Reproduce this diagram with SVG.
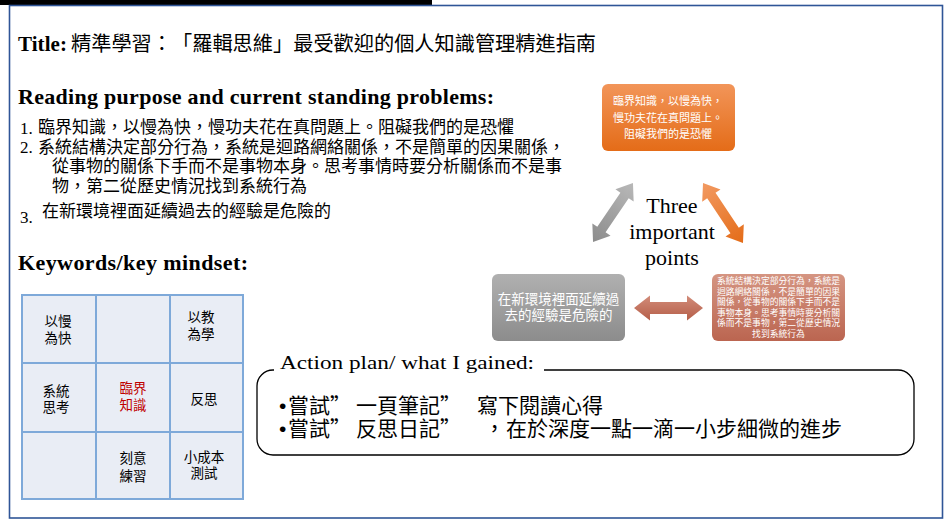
<svg xmlns="http://www.w3.org/2000/svg" width="950" height="523" viewBox="0 0 950 523">
<defs>
<style>
.cjk{font-family:"Noto Sans CJK TC","Noto Sans CJK SC",sans-serif;text-spacing-trim:space-all;}
.serif{font-family:"Liberation Serif","Times New Roman",serif;}
.sans{font-family:"Liberation Sans",Arial,sans-serif;}
.hd{font-family:"Liberation Serif","Times New Roman",serif;font-weight:bold;font-size:22px;fill:#000;}
.li{font-size:17px;fill:#000;}
.num{font-family:"Liberation Serif",serif;font-size:17px;fill:#000;}
.cell{fill:#E9EDF5;stroke:#7EA9D9;stroke-width:2;}
.ct{font-size:13.5px;fill:#000;text-anchor:middle;}
.red{fill:#C00000;}
.wt{fill:#FFFFFF;text-anchor:middle;}
.ap{font-size:21px;fill:#000;}
</style>
<linearGradient id="gOr" x1="0" y1="0" x2="0" y2="1"><stop offset="0" stop-color="#F29559"/><stop offset="1" stop-color="#E46C18"/></linearGradient>
<linearGradient id="gGr" x1="0" y1="0" x2="0" y2="1"><stop offset="0" stop-color="#B0B0B0"/><stop offset="1" stop-color="#8C8C8C"/></linearGradient>
<linearGradient id="gBr" x1="0" y1="0" x2="0" y2="1"><stop offset="0" stop-color="#D59582"/><stop offset="1" stop-color="#BB6550"/></linearGradient>
<linearGradient id="gArGr" x1="0" y1="0" x2="1" y2="0"><stop offset="0" stop-color="#8C8C8C"/><stop offset="1" stop-color="#B8B8B8"/></linearGradient>
<linearGradient id="gArOr" x1="0" y1="0" x2="1" y2="0"><stop offset="0" stop-color="#F29A62"/><stop offset="1" stop-color="#E46C18"/></linearGradient>
<linearGradient id="gArBr" x1="0" y1="0" x2="0" y2="1"><stop offset="0" stop-color="#D28C7A"/><stop offset="1" stop-color="#B55E48"/></linearGradient>
</defs>
<rect x="0" y="0" width="950" height="523" fill="#FFFFFF"/>
<rect x="0" y="0" width="432" height="5" fill="#000000"/>
<rect x="9.5" y="5.5" width="933" height="512.5" fill="none" stroke="#2F5597" stroke-width="1.6"/>

<g id="title">
<text x="18" y="51" class="serif" font-weight="bold" font-size="21" textLength="49">Title:</text>
<text y="51" class="cjk" font-size="20.2"><tspan x="71">精準學習：</tspan><tspan x="172">「羅輯思維」</tspan><tspan x="293.2">最受歡迎的個人知識管理精進指南</tspan></text>
</g>

<g id="reading">
<text x="18" y="104" class="hd" textLength="476">Reading purpose and current standing problems:</text>
<text x="20" y="134" class="num">1.</text>
<text x="38" y="133" class="cjk li">臨界知識，以慢為快，慢功夫花在真問題上。阻礙我們的是恐懼</text>
<text x="20" y="153" class="num">2.</text>
<text x="38" y="152.5" class="cjk li">系統結構決定部分行為，系統是迴路網絡關係，不是簡單的因果關係，</text>
<text x="52" y="172" class="cjk li">從事物的關係下手而不是事物本身。思考事情時要分析關係而不是事</text>
<text x="52" y="191.5" class="cjk li">物，第二從歷史情況找到系統行為</text>
<text x="20" y="223" class="num">3.</text>
<text x="42" y="217" class="cjk li">在新環境裡面延續過去的經驗是危險的</text>
</g>

<g id="keywords">
<text x="18" y="270" class="hd" textLength="230">Keywords/key mindset:</text>
<rect class="cell" x="22" y="295" width="74" height="68"/>
<rect class="cell" x="96" y="295" width="74" height="68"/>
<rect class="cell" x="170" y="295" width="73" height="68"/>
<rect class="cell" x="22" y="363" width="74" height="69"/>
<rect class="cell" x="96" y="363" width="74" height="69"/>
<rect class="cell" x="170" y="363" width="73" height="69"/>
<rect class="cell" x="22" y="432" width="74" height="67"/>
<rect class="cell" x="96" y="432" width="74" height="67"/>
<rect class="cell" x="170" y="432" width="73" height="67"/>
<text class="cjk ct" x="58" y="326">以慢</text>
<text class="cjk ct" x="58" y="343">為快</text>
<text class="cjk ct" x="201" y="322">以教</text>
<text class="cjk ct" x="201" y="339">為學</text>
<text class="cjk ct" x="56" y="396">系統</text>
<text class="cjk ct" x="56" y="412">思考</text>
<text class="cjk ct red" x="133" y="393">臨界</text>
<text class="cjk ct red" x="133" y="410">知識</text>
<text class="cjk ct" x="204" y="404">反思</text>
<text class="cjk ct" x="133" y="463">刻意</text>
<text class="cjk ct" x="133" y="481">練習</text>
<text class="cjk ct" x="204" y="462">小成本</text>
<text class="cjk ct" x="204" y="478">測試</text>
</g>

<g id="point1">
<rect x="602" y="84" width="133" height="67" rx="6" fill="url(#gOr)"/>
<text class="cjk wt" font-size="11" x="668" y="105">臨界知識，以慢為快，</text>
<text class="cjk wt" font-size="11" x="668" y="121.5">慢功夫花在真問題上。</text>
<text class="cjk wt" font-size="11" x="668" y="138">阻礙我們的是恐懼</text>
</g>

<g id="center-label">
<text class="serif" font-size="22" text-anchor="middle" x="672" y="213">Three</text>
<text class="serif" font-size="22" text-anchor="middle" x="672" y="239">important</text>
<text class="serif" font-size="22" text-anchor="middle" x="672" y="265">points</text>
</g>

<g id="point3">
<rect x="492" y="274" width="133" height="67" rx="6" fill="url(#gGr)"/>
<text class="cjk wt" font-size="13.5" x="558.5" y="304">在新環境裡面延續過</text>
<text class="cjk wt" font-size="13.5" x="558.5" y="320">去的經驗是危險的</text>
</g>

<g id="point2">
<rect x="712" y="274" width="133" height="67" rx="6" fill="url(#gBr)"/>
<text class="cjk wt" font-size="8.8" x="778.5" y="284">系統結構決定部分行為，系統是</text>
<text class="cjk wt" font-size="8.8" x="778.5" y="294.6">迴路網絡關係，不是簡單的因果</text>
<text class="cjk wt" font-size="8.8" x="778.5" y="305.2">關係，從事物的關係下手而不是</text>
<text class="cjk wt" font-size="8.8" x="778.5" y="315.8">事物本身。思考事情時要分析關</text>
<text class="cjk wt" font-size="8.8" x="778.5" y="326.4">係而不是事物，第二從歷史情況</text>
<text class="cjk wt" font-size="8.8" x="778.5" y="337">找到系統行為</text>
</g>

<g id="connectors">
<polygon transform="translate(613 212.5) rotate(-55.9)" fill="url(#gArGr)" points="-35.6,0 -20.6,-11 -20.6,-5 20.6,-5 20.6,-11 35.6,0 20.6,11 20.6,5 -20.6,5 -20.6,11"/>
<polygon transform="translate(723 213) rotate(56.3)" fill="url(#gArOr)" points="-36,0 -21,-11 -21,-5 21,-5 21,-11 36,0 21,11 21,5 -21,5 -21,11"/>
<polygon transform="translate(668.5 308)" fill="url(#gArBr)" points="-34.5,0 -18.5,-12.5 -18.5,-6 18.5,-6 18.5,-12.5 34.5,0 18.5,12.5 18.5,6 -18.5,6 -18.5,12.5"/>
</g>

<g id="action-plan">
<rect x="257" y="370" width="657" height="85" rx="16" fill="none" stroke="#000" stroke-width="1.3"/>
<rect x="274" y="355" width="270" height="20" fill="#FFFFFF"/>
<text class="serif" font-size="19.5" x="280" y="369" textLength="254" lengthAdjust="spacingAndGlyphs">Action plan/ what I gained:</text>
<text class="ap" y="413"><tspan class="sans" x="279">•</tspan><tspan class="cjk" x="288">嘗試”</tspan><tspan class="cjk" x="356">一頁筆記”</tspan><tspan class="cjk" x="477">寫下閱讀心得</tspan></text>
<text class="ap" y="436"><tspan class="sans" x="279">•</tspan><tspan class="cjk" x="288">嘗試”</tspan><tspan class="cjk" x="356">反思日記”</tspan><tspan class="cjk" x="484">，</tspan><tspan class="cjk" x="506">在於深度一點一滴一小步細微的進步</tspan></text>
</g>
</svg>
